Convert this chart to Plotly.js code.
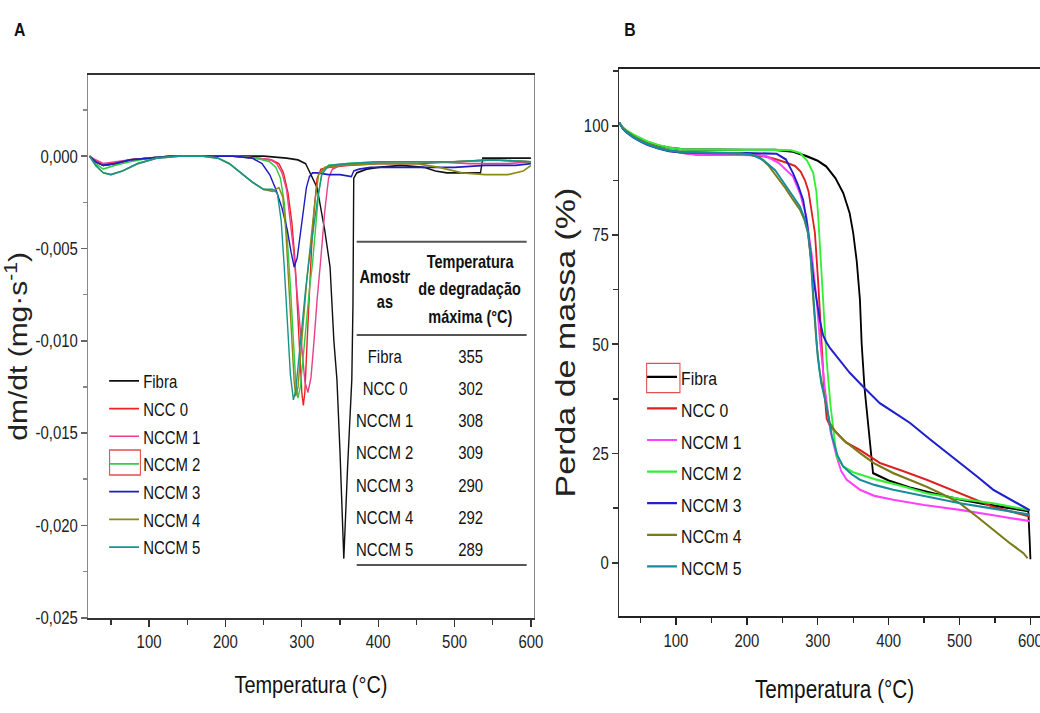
<!DOCTYPE html>
<html>
<head>
<meta charset="utf-8">
<script src="https://cdn.plot.ly/plotly-3.0.1.min.js"></script>
<style>
html, body { margin:0; padding:0; overflow:hidden; background:#fff; width:1040px; height:713px; }
#chart { width:1277px; height:713px; transform: scaleX(0.83); transform-origin: 0 0; }
</style>
</head>
<body>
<div id="chart"></div>
<script>
// ---------- Panel A : DTG (dm/dt) ----------
const namesA = ['Fibra', 'NCC 0', 'NCCM 1', 'NCCM 2', 'NCCM 3', 'NCCM 4', 'NCCM 5'];
const colorsA = ['#111111', '#ee2222', '#e8408f', '#33cc44', '#1e1ec0', '#8a8a14', '#17958c'];

const tA_fibra = [22, 30, 40, 55, 75, 100, 130, 170, 210, 250, 280, 295, 305, 311, 320, 330, 337, 342, 346, 350, 355, 360, 365.5, 367, 368, 372, 385, 400, 430, 460, 475, 490, 520, 534, 537, 560, 600];
const dA_fibra = [0, -0.0003, -0.0005, -0.0004, -0.0002, -0.0001, 0, 0, 0, 0, -0.0001, -0.0002, -0.0004, -0.0009, -0.0017, -0.0040, -0.0060, -0.0100, -0.0121, -0.0160, -0.0218, -0.0168, -0.0121, -0.0080, -0.0012, -0.0009, -0.0007, -0.0006, -0.0005, -0.0006, -0.0008, -0.0009, -0.0009, -0.0009, -0.0001, -0.0001, -0.0001];

const tA_ncc0 = [22, 30, 40, 55, 75, 100, 130, 170, 210, 240, 260, 270, 276, 282, 287, 291, 294, 297, 300, 302, 304, 307, 310, 313, 316, 320, 325, 335, 360, 400, 450, 500, 550, 600];
const dA_ncc0 = [0, -0.0003, -0.0005, -0.0004, -0.0002, -0.0001, 0, 0, 0, -0.0001, -0.0002, -0.0004, -0.0009, -0.0020, -0.0036, -0.0056, -0.0080, -0.0108, -0.0128, -0.0135, -0.0128, -0.0100, -0.0070, -0.0048, -0.0030, -0.0012, -0.0007, -0.0006, -0.0005, -0.0004, -0.0004, -0.0003, -0.0002, -0.0003];

const tA_nccm1 = [22, 30, 40, 55, 75, 100, 130, 170, 210, 240, 260, 267, 274, 280, 285, 289, 294, 300, 304, 308, 312, 316, 320, 325, 330, 335, 340, 350, 380, 420, 470, 520, 570, 600];
const dA_nccm1 = [0, -0.0002, -0.0004, -0.0003, -0.0002, -0.0001, 0, 0, 0, -0.0001, -0.0002, -0.0004, -0.0009, -0.0018, -0.0035, -0.0050, -0.0075, -0.0105, -0.0122, -0.0128, -0.0120, -0.0100, -0.0078, -0.0055, -0.0030, -0.0012, -0.0007, -0.0005, -0.0004, -0.0003, -0.0003, -0.0004, -0.0004, -0.0003];

const tA_nccm2 = [22, 30, 40, 55, 75, 100, 130, 170, 210, 240, 258, 266, 272, 277, 281, 285, 289, 292, 295, 298, 302, 306, 310, 314, 318, 322, 327, 335, 360, 400, 450, 500, 550, 600];
const dA_nccm2 = [0, -0.0004, -0.0007, -0.0005, -0.0003, -0.0001, 0, 0, 0, -0.0001, -0.0003, -0.0006, -0.0012, -0.0025, -0.0045, -0.0070, -0.0100, -0.0122, -0.0131, -0.0125, -0.0108, -0.0090, -0.0072, -0.0058, -0.0040, -0.0020, -0.0008, -0.0005, -0.0004, -0.0003, -0.0003, -0.0003, -0.0002, -0.0003];

const tA_nccm3 = [22, 30, 40, 55, 75, 100, 130, 170, 210, 235, 248, 258, 266, 274, 281, 286, 290, 294, 298, 302, 306, 310, 314, 320, 335, 350, 365, 368, 375, 390, 420, 460, 500, 540, 580, 600];
const dA_nccm3 = [0, -0.0003, -0.0005, -0.0004, -0.0002, -0.0001, 0, 0, 0, -0.0001, -0.0004, -0.0010, -0.0018, -0.0028, -0.0040, -0.0052, -0.0060, -0.0055, -0.0042, -0.0028, -0.0017, -0.0011, -0.0009, -0.0009, -0.0010, -0.0010, -0.0011, -0.0008, -0.0007, -0.0006, -0.0006, -0.0006, -0.0006, -0.0005, -0.0005, -0.0004];

const tA_nccm4 = [22, 30, 40, 50, 65, 85, 110, 140, 170, 190, 205, 220, 235, 250, 262, 270, 275, 279, 283, 287, 290, 292, 295, 299, 303, 307, 312, 317, 322, 330, 350, 400, 450, 480, 510, 540, 570, 590, 600];
const dA_nccm4 = [0, -0.0005, -0.0009, -0.0010, -0.0008, -0.0004, -0.0001, 0, 0, -0.0001, -0.0004, -0.0009, -0.0014, -0.0018, -0.0019, -0.0017, -0.0022, -0.0040, -0.0070, -0.0100, -0.0122, -0.0130, -0.0125, -0.0105, -0.0085, -0.0065, -0.0045, -0.0025, -0.0010, -0.0006, -0.0005, -0.0004, -0.0004, -0.0006, -0.0009, -0.0010, -0.0010, -0.0008, -0.0005];

const tA_nccm5 = [22, 30, 40, 50, 65, 85, 110, 140, 170, 190, 205, 220, 235, 250, 262, 268, 273, 277, 281, 285, 289, 292, 296, 300, 305, 310, 315, 320, 326, 335, 360, 400, 450, 500, 550, 600];
const dA_nccm5 = [0, -0.0005, -0.0009, -0.0010, -0.0008, -0.0004, -0.0001, 0, 0, -0.0001, -0.0004, -0.0009, -0.0014, -0.0018, -0.0018, -0.0020, -0.0035, -0.0060, -0.0090, -0.0118, -0.0132, -0.0127, -0.0110, -0.0092, -0.0072, -0.0055, -0.0040, -0.0025, -0.0010, -0.0005, -0.0004, -0.0003, -0.0003, -0.0003, -0.0002, -0.0003];

const yTickValsA = [0, -0.005, -0.010, -0.015, -0.020, -0.025];
const yTickTextA = ['0,000', '-0,005', '-0,010', '-0,015', '-0,020', '-0,025'];

// inset table of panel A
const tableHeadSample = ['Amostr', 'as'];
const tableHeadTemp = ['Temperatura', 'de degradação', 'máxima (°C)'];
const tableSamples = ['Fibra', 'NCC 0', 'NCCM 1', 'NCCM 2', 'NCCM 3', 'NCCM 4', 'NCCM 5'];
const tableTmax = [355, 302, 308, 309, 290, 292, 289];

// ---------- Panel B : TG (mass) ----------
const namesB = ['Fibra', 'NCC 0', 'NCCM 1', 'NCCM 2', 'NCCM 3', 'NCCm 4', 'NCCM 5'];
const colorsB = ['#000000', '#dd2020', '#ff40ff', '#33ee33', '#2020cc', '#7a7a18', '#188c9a'];

const tB_fibra = [20, 25, 30, 40, 50, 60, 75, 90, 110, 150, 200, 240, 265, 285, 300, 312, 325, 336, 345, 350, 355, 359.5, 362, 366, 370, 374, 378, 400, 430, 460, 500, 540, 570, 597, 599, 600];
const mB_fibra = [100.7, 99.5, 98.8, 97.8, 97, 96.3, 95.5, 95, 94.6, 94.5, 94.5, 94.5, 94.1, 93, 92, 90.7, 88, 84.6, 80, 75.5, 69, 60.2, 50, 40, 33, 26, 20.5, 18.8, 17.2, 16, 14.5, 13.3, 12.6, 11.8, 5, 0.8];

const tB_ncc0 = [20, 25, 30, 40, 50, 60, 75, 90, 110, 130, 150, 200, 225, 240, 255, 268, 276, 282, 287, 292, 296, 300.7, 305.5, 309, 312.5, 318, 326.6, 340, 359.5, 387.7, 420, 453.6, 500.5, 547, 599];
const mB_ncc0 = [100.7, 99.5, 98.8, 97.6, 96.7, 95.9, 95, 94.3, 93.8, 93.4, 93.4, 93.4, 93.0, 92.4, 91.6, 90.8, 89.5, 87.5, 85, 80, 75.5, 64, 50, 40, 33, 31, 29.7, 27.5, 25.8, 22.8, 21, 19, 15.9, 12.8, 10.6];

const tB_nccm1 = [20, 25, 30, 40, 50, 60, 75, 90, 110, 130, 150, 200, 215, 228, 245, 265, 275, 284, 292, 298.4, 303, 310, 318, 326.6, 333, 340.7, 350, 359.5, 380, 406.5, 450, 500.5, 550, 599];
const mB_nccm1 = [100.7, 99.5, 98.8, 97.6, 96.7, 95.9, 95, 94.3, 93.8, 93.4, 93.4, 93.4, 93.3, 93, 91.5, 88.4, 84.5, 79.2, 70, 60.2, 51, 40, 30, 24.3, 21, 19, 17.8, 16.7, 15.3, 14.4, 13.2, 12.1, 10.8, 9.5];

const tB_nccm2 = [20, 25, 30, 40, 50, 60, 75, 90, 110, 150, 200, 240, 262, 275, 285, 293.6, 298, 300.7, 304, 307.7, 312.5, 318, 322, 326.6, 336, 350, 383, 420, 453.6, 500, 547.5, 599];
const mB_nccm2 = [100.7, 99.6, 99, 98, 97.2, 96.4, 95.6, 95, 94.6, 94.5, 94.5, 94.5, 94.4, 93.8, 92, 89.2, 85, 79.2, 70, 60.2, 46.4, 36, 30, 24.3, 22, 20.7, 19, 17.5, 15.9, 14.6, 13.6, 12];

const tB_nccm3 = [20, 25, 30, 40, 50, 60, 75, 90, 110, 150, 200, 230, 242, 255, 265, 272, 279.5, 285, 289, 294, 298.4, 303, 307.7, 312, 317, 330, 345, 364, 387.7, 401.8, 430, 458, 480, 500.5, 525, 547.5, 575, 599];
const mB_nccm3 = [100.7, 99.3, 98.5, 97.3, 96.4, 95.6, 94.8, 94.2, 93.9, 93.75, 93.75, 93.75, 93.6, 92.3, 89.2, 86.5, 83, 77.5, 71.6, 65, 60.2, 55.5, 52, 50.5, 49.2, 46.5, 43.5, 40.3, 36.5, 35, 32, 28.3, 25.5, 22.9, 19.7, 16.7, 14.1, 12];

const tB_nccm4 = [20, 25, 30, 40, 50, 60, 75, 90, 110, 150, 190, 205, 218, 230, 242, 254, 265.4, 275, 281, 286, 290, 293.6, 298.4, 303, 307.7, 312, 317, 325, 336, 359.5, 380, 406.5, 430, 453.6, 477, 500.5, 525, 547.5, 570, 590, 596];
const mB_nccm4 = [100.7, 99.5, 98.8, 97.6, 96.7, 95.9, 95, 94.4, 94, 93.8, 93.7, 93.4, 92.8, 91, 88.4, 85.8, 83, 80.8, 78.5, 75.5, 70, 60.2, 50, 43.5, 39.6, 36, 32, 30, 28.1, 25.1, 22.7, 20.5, 19, 17.4, 15.6, 13.6, 10.5, 7.5, 4.6, 2.2, 1];

const tB_nccm5 = [20, 25, 30, 40, 50, 60, 75, 90, 110, 150, 190, 208, 223, 240, 256, 268, 275, 281, 286.6, 291, 295, 300, 305, 312.5, 320, 328, 336, 348, 359.5, 380, 406.5, 450, 500.5, 550, 599];
const mB_nccm5 = [100.7, 99.4, 98.6, 97.4, 96.5, 95.7, 94.9, 94.3, 94, 93.8, 93.7, 93.3, 92.2, 89.8, 86.1, 83.2, 81.5, 79, 75.5, 68, 58, 47, 41, 35.7, 29, 24.5, 22, 20.2, 19, 17.8, 16.7, 15.2, 13.6, 12.3, 11];

// ---------- build ----------
// the figure is drawn 1277 px wide and squeezed to 83% horizontally (the original is a condensed image)
const W = 1060, H = 713, PW = 1277;
const fx = p => p / W;
const fy = p => 1 - p / H;
const SANS = '"Liberation Sans", Arial, sans-serif';

const seriesA = [[tA_fibra, dA_fibra], [tA_ncc0, dA_ncc0], [tA_nccm1, dA_nccm1], [tA_nccm2, dA_nccm2], [tA_nccm3, dA_nccm3], [tA_nccm4, dA_nccm4], [tA_nccm5, dA_nccm5]];
const seriesB = [[tB_fibra, mB_fibra], [tB_ncc0, mB_ncc0], [tB_nccm1, mB_nccm1], [tB_nccm2, mB_nccm2], [tB_nccm3, mB_nccm3], [tB_nccm4, mB_nccm4], [tB_nccm5, mB_nccm5]];

const traces = [];
seriesA.forEach((s, i) => traces.push({
  x: s[0], y: s[1], type: 'scatter', mode: 'lines', xaxis: 'x', yaxis: 'y',
  name: '<span style="font-size:18px">' + namesA[i] + '</span>', legend: 'legend',
  line: { color: colorsA[i], width: 1.7 }, hoverinfo: 'x+y'
}));
seriesB.forEach((s, i) => traces.push({
  x: s[0], y: s[1], type: 'scatter', mode: 'lines', xaxis: 'x2', yaxis: 'y2',
  name: '<span style="font-size:19px">' + namesB[i] + '</span>', legend: 'legend2',
  line: { color: colorsB[i], width: 2.2 }, hoverinfo: 'x+y'
}));

const ann = (text, px, py, size) => ({
  text: text, xref: 'paper', yref: 'paper', x: fx(px), y: fy(py),
  xanchor: 'center', yanchor: 'middle', showarrow: false,
  font: { family: SANS, size: size, color: '#111' }
});
const annotations = [ann('<b>A</b>', 20, 30, 19), ann('<b>B</b>', 630, 29, 19)];
const headSampleY = [276.7, 301.7];
tableHeadSample.forEach((t, i) => annotations.push(ann('<b>' + t + '</b>', 385, headSampleY[i], 17.5)));
const headTempY = [261.7, 289.5, 316.7];
tableHeadTemp.forEach((t, i) => annotations.push(ann('<b>' + t + '</b>', 470, headTempY[i], 17.5)));
tableSamples.forEach((s, i) => {
  const py = 356.7 + i * 32.2;
  annotations.push(ann(s, 385, py, 18));
  annotations.push(ann(String(tableTmax[i]), 471, py, 18));
});

const hline = (py, w) => ({ type: 'line', xref: 'paper', yref: 'paper', x0: fx(356.7), x1: fx(526.7), y0: fy(py), y1: fy(py), line: { color: '#555', width: w } });
const shapes = [
  hline(241.7, 2), hline(335, 2), hline(565, 2),
  { type: 'rect', xref: 'paper', yref: 'paper', x0: fx(109.6), x1: fx(140.4), y0: fy(475), y1: fy(450), line: { color: '#e05050', width: 1.3 } },
  { type: 'rect', xref: 'paper', yref: 'paper', x0: fx(646.7), x1: fx(680), y0: fy(392.7), y1: fy(363.3), line: { color: '#e05050', width: 1.3 } }
];

const tickFont = { family: SANS, size: 18, color: '#222' };
const layout = {
  width: PW, height: H,
  margin: { l: 0, r: 0, t: 0, b: 0 },
  paper_bgcolor: '#fff', plot_bgcolor: '#fff',
  showlegend: true,
  xaxis: {
    domain: [fx(88), fx(534)], range: [20, 604], anchor: 'y',
    showline: true, linecolor: '#333', linewidth: 2, mirror: true,
    ticks: 'outside', ticklen: 7, tickwidth: 1.6, tickcolor: '#333',
    tick0: 0, dtick: 100, showgrid: false, zeroline: false,
    minor: { tick0: 0, dtick: 50, ticks: 'outside', ticklen: 5, tickcolor: '#333' },
    tickfont: tickFont,
    title: { text: 'Temperatura (°C)', font: { family: SANS, size: 24, color: '#111' }, standoff: 25 }
  },
  yaxis: {
    domain: [fy(617.7), fy(75)], range: [-0.025, 0.0044], anchor: 'x',
    showline: true, linecolor: '#888', linewidth: 1.6, mirror: true,
    ticks: 'outside', ticklen: 7, tickwidth: 1.6, tickcolor: '#666',
    tickmode: 'array', tickvals: yTickValsA, ticktext: yTickTextA,
    showgrid: false, zeroline: false,
    minor: { tickmode: 'linear', tick0: 0, dtick: 0.0025, ticks: 'outside', ticklen: 5, tickcolor: '#888' },
    tickfont: tickFont,
    title: { text: 'dm/dt (mg·s<sup>-1</sup>)', font: { family: SANS, size: 30, color: '#222' }, standoff: 0 }
  },
  xaxis2: {
    domain: [fx(619.3), fx(1050)], range: [20, 627.5], anchor: 'y2',
    showline: true, linecolor: '#222', linewidth: 2, mirror: true,
    ticks: 'outside', ticklen: 7, tickwidth: 1.6, tickcolor: '#222',
    tick0: 0, dtick: 100, showgrid: false, zeroline: false,
    minor: { tick0: 0, dtick: 50, ticks: 'outside', ticklen: 5, tickcolor: '#222' },
    tickfont: tickFont,
    title: { text: 'Temperatura (°C)', font: { family: SANS, size: 25, color: '#111' }, standoff: 31 }
  },
  yaxis2: {
    domain: [fy(616), fy(69)], range: [-12.2, 113], anchor: 'x2',
    showline: true, linecolor: '#333', linewidth: 2, mirror: true,
    ticks: 'outside', ticklen: 7, tickwidth: 1.6, tickcolor: '#333',
    tick0: 0, dtick: 25, showgrid: false, zeroline: false,
    minor: { tick0: 0, dtick: 12.5, ticks: 'outside', ticklen: 5, tickcolor: '#333' },
    tickfont: tickFont,
    title: { text: 'Perda de massa (%)', font: { family: SANS, size: 34, color: '#222' }, standoff: 0 }
  },
  legend: {
    x: fx(105), y: fy(362), xanchor: 'left', yanchor: 'top',
    bgcolor: 'rgba(0,0,0,0)', borderwidth: 0, tracegroupgap: 0, itemwidth: 36,
    font: { family: SANS, size: 19, color: '#111' }
  },
  legend2: {
    x: fx(643), y: fy(356), xanchor: 'left', yanchor: 'top',
    bgcolor: 'rgba(0,0,0,0)', borderwidth: 0, tracegroupgap: 0, itemwidth: 36,
    font: { family: SANS, size: 22, color: '#111' }
  },
  annotations: annotations,
  shapes: shapes
};

Plotly.newPlot('chart', traces, layout, { displayModeBar: false, responsive: false, staticPlot: true });
</script>
</body>
</html>
